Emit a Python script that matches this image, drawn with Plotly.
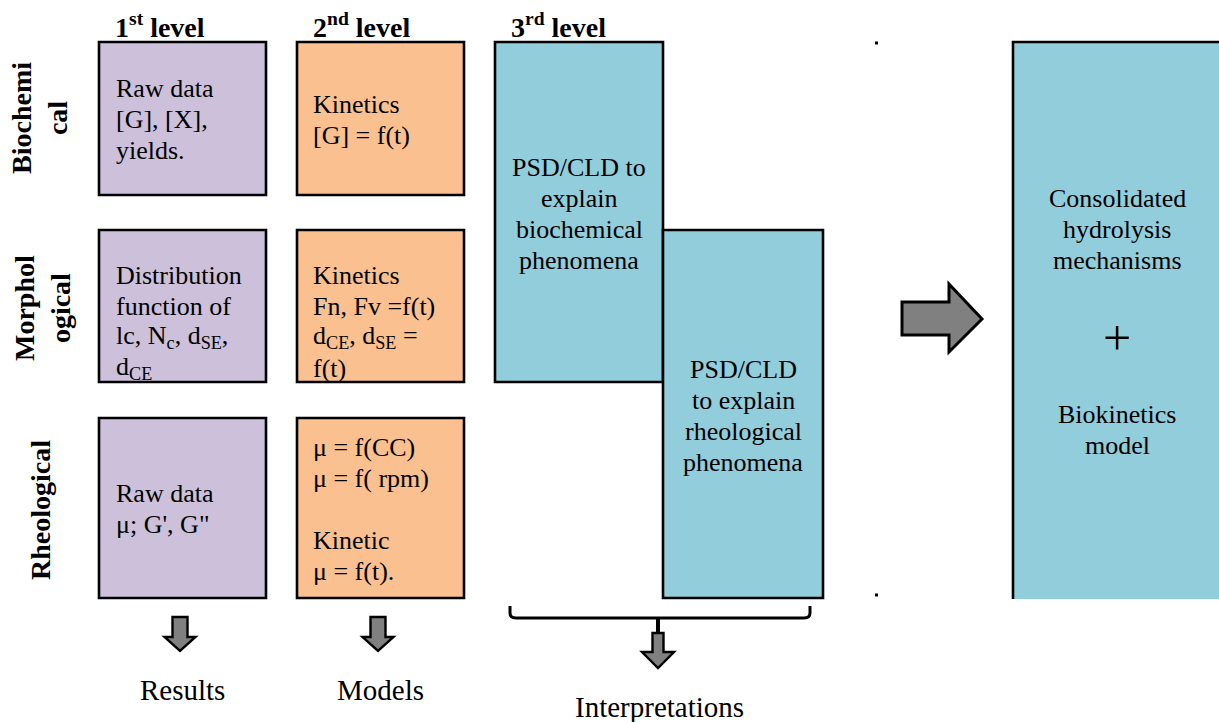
import plotly.graph_objects as go

# ---------------- content ----------------
level_titles = ["1<sup>st</sup> level", "2<sup>nd</sup> level", "3<sup>rd</sup> level"]
row_labels = ["Biochemi<br>cal", "Morphol<br>ogical", "Rheological"]
level1_texts = [
    ["Raw data", "[G], [X],", "yields."],
    ["Distribution", "function of", "lc, N<sub>c</sub>, d<sub>SE</sub>,", "d<sub>CE</sub>"],
    ["Raw data", "μ; G', G\""],
]
level2_texts = [
    ["Kinetics", "[G] = f(t)"],
    ["Kinetics", "Fn, Fv =f(t)", "d<sub>CE</sub>, d<sub>SE</sub> =", "f(t)"],
    ["μ = f(CC)", "μ = f( rpm)", "", "Kinetic", "μ = f(t)."],
]
level3_texts = [
    ["PSD/CLD to", "explain", "biochemical", "phenomena"],
    ["PSD/CLD", "to explain", "rheological", "phenomena"],
]
final_texts = ["Consolidated", "hydrolysis", "mechanisms", "+", "Biokinetics", "model"]
bottom_labels = ["Results", "Models", "Interpretations"]

# ---------------- layout geometry (pixels) ----------------
W, H = 1219, 722
PURPLE, ORANGE, CYAN, GREY = "#CCC0DA", "#FAC090", "#92CDDC", "#808080"
SERIF = "Times New Roman, Liberation Serif, Tinos, serif"
LW = 2.6

rows_y = [(42, 195), (230, 382), (418, 598)]
col1_x = (99, 266)
col2_x = (297, 464)
cyanA = (495, 42, 663, 382)
cyanB = (663, 230, 823, 598)

text_first_y = [
    [88, 119, 150],
    [275, 306, 337, 368],
    [493, 524],
]
text2_first_y = [
    [104, 135],
    [275, 306, 337, 368],
    [447, 478, 509, 540, 571],
]

fig = go.Figure()
shapes = []
ann = []


def rect(x0, y0, x1, y1, fill, line=True):
    shapes.append(dict(type="rect", x0=x0, y0=y0, x1=x1, y1=y1, xref="x", yref="y",
                       fillcolor=fill, layer="below",
                       line=dict(color="black", width=LW if line else 0)))


def txt(x, y, s, size=26, bold=False, xanchor="left", angle=0):
    ann.append(dict(x=x, y=y, xref="x", yref="y", text=("<b>%s</b>" % s) if bold else s,
                    showarrow=False, xanchor=xanchor, yanchor="middle", textangle=angle,
                    font=dict(family=SERIF, size=size, color="black"), align="center"))


# level 1 & 2 boxes
for i, (y0, y1) in enumerate(rows_y):
    rect(col1_x[0], y0, col1_x[1], y1, PURPLE)
    rect(col2_x[0], y0, col2_x[1], y1, ORANGE)
    for s, y in zip(level1_texts[i], text_first_y[i]):
        txt(114, y, s)
    for s, y in zip(level2_texts[i], text2_first_y[i]):
        if s:
            txt(311, y, s)

# level 3 boxes
rect(*cyanA, CYAN)
rect(*cyanB, CYAN)
for s, y in zip(level3_texts[0], [167, 198, 229, 260]):
    txt((cyanA[0] + cyanA[2]) / 2, y, s, xanchor="center")
for s, y in zip(level3_texts[1], [369, 400, 431, 462]):
    txt((cyanB[0] + cyanB[2]) / 2, y, s, xanchor="center")

# final box (clipped at right / bottom)
rect(1013, 42, W + 5, 599, CYAN, line=False)
shapes.append(dict(type="path", path="M 1013 599 L 1013 42 L %d 42" % (W + 5),
                   line=dict(color="black", width=LW), xref="x", yref="y"))
for s, y in zip(final_texts, [198, 229, 260, 338, 414, 445]):
    if s == "+":
        txt(1117, y, s, size=50, xanchor="center")
    else:
        txt(1117, y, s, xanchor="center")

# small corner dots
for yy in (43, 595):
    shapes.append(dict(type="rect", x0=875, x1=878, y0=yy - 1.5, y1=yy + 1.5, fillcolor="black",
                       line=dict(width=0), xref="x", yref="y"))

# level titles
for s, x in zip(level_titles, [113, 311, 509]):
    txt(x, 25, s, size=28, bold=True)

# row labels (rotated)
for s, (x, y) in zip(row_labels, [(39, 118), (42, 308), (40, 510)]):
    txt(x, y, s, size=28, bold=True, xanchor="center", angle=-90)


# grey down arrows
def down_arrow(cx, top, base, tip, bw, hw):
    p = ("M {a} {t} L {b} {t} L {b} {bs} L {c} {bs} L {cx} {tp} L {d} {bs} L {a} {bs} Z"
         .format(a=cx - bw / 2, b=cx + bw / 2, t=top, bs=base, c=cx + hw / 2, cx=cx, tp=tip,
                 d=cx - hw / 2))
    shapes.append(dict(type="path", path=p, fillcolor=GREY, line=dict(color="black", width=2.4),
                       xref="x", yref="y"))


down_arrow(180, 617, 637, 651, 15, 31)
down_arrow(378, 617, 637, 651, 15, 31)
down_arrow(658, 633, 652, 668, 11, 32)

# bracket under level 3
shapes.append(dict(type="path",
                   path="M 510 606 L 510 613 Q 510 618 516 618 L 804 618 Q 810 618 810 613 L 810 606",
                   line=dict(color="black", width=3), xref="x", yref="y"))
shapes.append(dict(type="line", x0=658, x1=658, y0=618, y1=634,
                   line=dict(color="black", width=4), xref="x", yref="y"))

# big right arrow
shapes.append(dict(type="path",
                   path="M 902 302 L 949 302 L 949 284 L 982 319 L 949 352 L 949 335 L 902 335 Z",
                   fillcolor=GREY, line=dict(color="black", width=3), xref="x", yref="y"))

# bottom labels
for s, (x, y) in zip(bottom_labels, [(182, 690), (380, 690), (659, 707)]):
    txt(x, y, s, size=29, xanchor="center")

fig.update_layout(
    width=W, height=H, margin=dict(l=0, r=0, t=0, b=0),
    paper_bgcolor="white", plot_bgcolor="white",
    xaxis=dict(range=[0, W], visible=False, fixedrange=True),
    yaxis=dict(range=[H, 0], visible=False, fixedrange=True),
    shapes=shapes, annotations=ann, showlegend=False,
)
fig.write_html("out.html", config={"displayModeBar": False},
               post_script="document.body.style.margin='0';document.body.style.padding='0';")
